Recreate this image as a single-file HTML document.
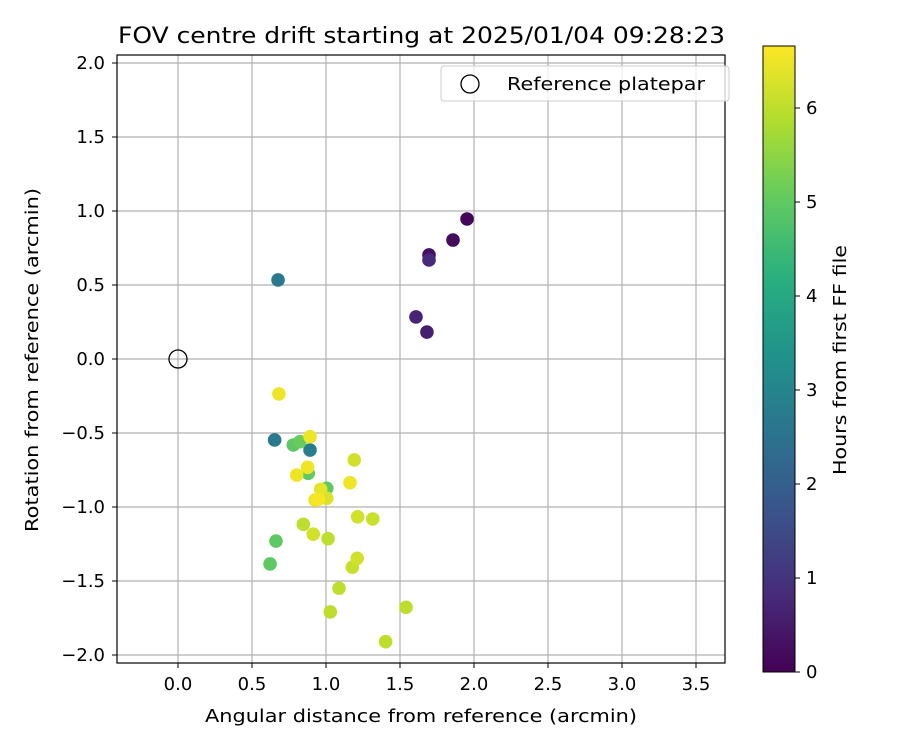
<!DOCTYPE html>
<html><head><meta charset="utf-8"><style>
body{margin:0;background:#fff}
svg text{font-family:"DejaVu Sans","Liberation Sans",sans-serif;fill:#000}
</style></head><body>
<svg id="chart" width="900" height="750" xmlns="http://www.w3.org/2000/svg">
<defs><linearGradient id="vir" x1="0" y1="1" x2="0" y2="0">
<stop offset="0" stop-color="#440154"/><stop offset="0.125" stop-color="#472c7a"/><stop offset="0.25" stop-color="#3b528b"/><stop offset="0.375" stop-color="#2c728e"/><stop offset="0.5" stop-color="#21918c"/><stop offset="0.625" stop-color="#28ae80"/><stop offset="0.75" stop-color="#5ec962"/><stop offset="0.875" stop-color="#addc30"/><stop offset="1" stop-color="#fde725"/></linearGradient></defs>
<g id="grid"></g>
<g id="points"></g>
<rect x="117" y="55" width="608" height="608" fill="none" stroke="#000" stroke-width="1.2"/>
<g id="ticks"></g>
<text x="118" y="43" font-size="22" textLength="607" lengthAdjust="spacingAndGlyphs">FOV centre drift starting at 2025/01/04 09:28:23</text>
<text x="205" y="722" font-size="18" textLength="432" lengthAdjust="spacingAndGlyphs">Angular distance from reference (arcmin)</text>
<text transform="translate(38,532) rotate(-90)" font-size="18" textLength="344" lengthAdjust="spacingAndGlyphs">Rotation from reference (arcmin)</text>
<g>
<rect x="441" y="66" width="288" height="35" rx="3" fill="#fff" fill-opacity="0.8" stroke="#ccc"/>
<circle cx="470" cy="84" r="9" fill="none" stroke="#000" stroke-width="1.3"/>
<text x="507" y="90" font-size="18" textLength="198" lengthAdjust="spacingAndGlyphs">Reference platepar</text>
</g>
<rect x="763" y="46" width="32" height="626" fill="url(#vir)" stroke="#000" stroke-width="1"/>
<g id="cbticks"></g>
<text transform="translate(846,475) rotate(-90)" font-size="18" textLength="230" lengthAdjust="spacingAndGlyphs">Hours from first FF file</text>
</svg>
<script>
const xs=[0.653,0.779,0.824,0.892,0.892,1.191,0.802,0.880,0.876,1.162,1.005,0.964,1.005,0.926,0.948,0.847,1.214,1.316,0.662,0.914,1.014,0.622,1.211,1.178,1.088,1.029,1.541,1.403,0.676,0.682,1.953,1.858,1.696,1.696,1.608,1.682];
const ys=[-0.547,-0.581,-0.559,-0.525,-0.615,-0.682,-0.784,-0.772,-0.732,-0.836,-0.874,-0.880,-0.941,-0.953,-0.948,-1.117,-1.066,-1.081,-1.230,-1.184,-1.214,-1.385,-1.347,-1.407,-1.549,-1.709,-1.678,-1.910,0.534,-0.236,0.946,0.804,0.703,0.669,0.284,0.182];
const hours=[2.7,5.0,5.1,6.5,2.8,6.2,6.5,5.0,6.5,6.5,5.0,6.4,6.3,6.5,6.6,6.0,6.2,6.1,5.0,6.2,6.0,5.0,6.2,6.1,6.0,6.0,6.0,6.0,2.7,6.5,0.1,0.2,0.3,0.8,0.7,0.6];
const xTicks=[0.0,0.5,1.0,1.5,2.0,2.5,3.0,3.5];
const yTicks=[-2.0,-1.5,-1.0,-0.5,0.0,0.5,1.0,1.5,2.0];
const cTicks=[0,1,2,3,4,5,6];
const NS="http://www.w3.org/2000/svg";
const X=v=>178+v*148, Y=v=>359-v*148, C=v=>672-v*94, HMAX=6.66;
const vir=["#440154","#472c7a","#3b528b","#2c728e","#21918c","#28ae80","#5ec962","#addc30","#fde725"];
function color(h){let t=Math.max(0,Math.min(1,h/HMAX))*8,i=Math.min(7,Math.floor(t)),f=t-i;
const a=vir[i],b=vir[i+1],p=(s,k)=>parseInt(s.substr(k,2),16);
return "rgb("+[1,3,5].map(k=>Math.round(p(a,k)+(p(b,k)-p(a,k))*f)).join(",")+")";}
function mk(tag,at,parent){const e=document.createElementNS(NS,tag);for(const k in at)e.setAttribute(k,at[k]);document.getElementById(parent).appendChild(e);return e;}
xTicks.forEach(v=>{
const g=mk("line",{x1:X(v),x2:X(v),y1:55,y2:663,stroke:"#b0b0b0","stroke-width":1.2},"grid");


const t=mk("line",{x1:X(v),x2:X(v),y1:663,y2:668,stroke:"#000"},"ticks");


const l=mk("text",{x:X(v),y:690,"font-size":18,"text-anchor":"middle"},"ticks");l.textContent=v.toFixed(1);

});
yTicks.forEach(v=>{
const g=mk("line",{x1:117,x2:725,y1:Y(v),y2:Y(v),stroke:"#b0b0b0","stroke-width":1.2},"grid");


const t=mk("line",{x1:112,x2:117,y1:Y(v),y2:Y(v),stroke:"#000"},"ticks");


const l=mk("text",{x:105,y:Y(v)+6,"font-size":18,"text-anchor":"end"},"ticks");l.textContent=v.toFixed(1).replace("-","\u2212");

});
cTicks.forEach(v=>{
const t=mk("line",{x1:795,x2:800,y1:C(v),y2:C(v),stroke:"#000"},"cbticks");


const l=mk("text",{x:806,y:C(v)+6,"font-size":18},"cbticks");l.textContent=v;

});
const ref=mk("circle",{cx:X(0),cy:Y(0),r:9,fill:"none",stroke:"#000","stroke-width":1.3},"points");


const idx=hours.map((h,i)=>i).sort((a,b)=>hours[a]-hours[b]);
idx.forEach(i=>{
const c=mk("circle",{cx:X(xs[i]),cy:Y(ys[i]),r:6.8,fill:color(hours[i])},"points");

});
</script>
</body></html>
